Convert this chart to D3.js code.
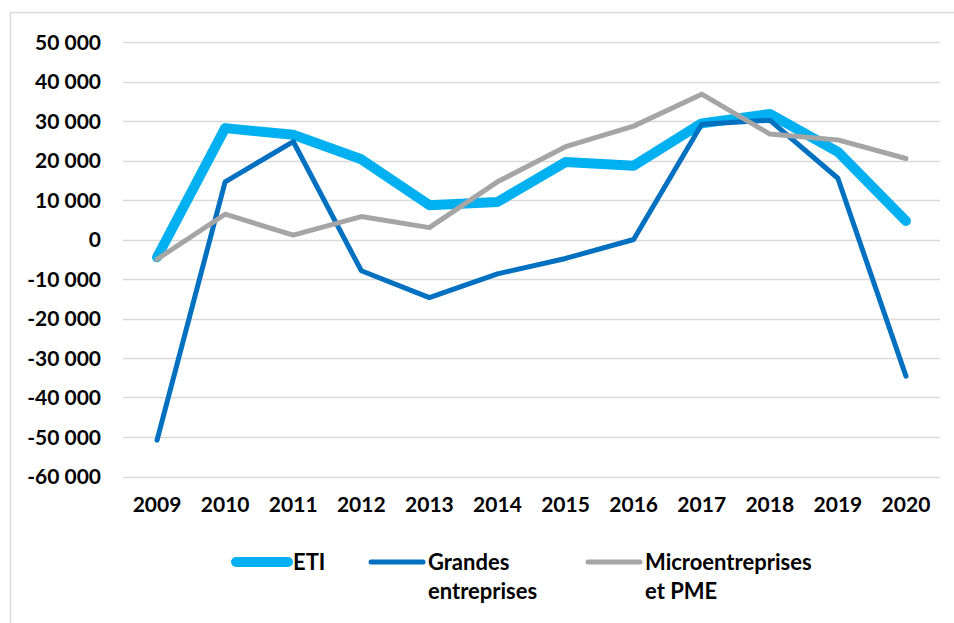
<!DOCTYPE html>
<html>
<head>
<meta charset="utf-8">
<script src="https://cdn.jsdelivr.net/npm/d3@7"></script>
<style>
  html, body { margin: 0; padding: 0; background: #fff; }
  svg text { font-family: Lato, "Liberation Sans", sans-serif; font-weight: bold; fill: #000; }
</style>
</head>
<body>
<svg id="chart" width="954" height="623"></svg>
<script>
'use strict';

// years on the x axis
var years = ['2009', '2010', '2011', '2012', '2013', '2014', '2015', '2016', '2017', '2018', '2019', '2020'];

// series values
var eti = [-4500, 28200, 26500, 20300, 8700, 9500, 19600, 18700, 29400, 31800, 22200, 4700];
var grandes = [-50800, 14600, 24800, -7900, -14700, -8700, -4800, 0, 29200, 30200, 15500, -34600];
var micro = [-5000, 6400, 1100, 5800, 3000, 14600, 23500, 28700, 36800, 26700, 25200, 20500];

var yTicks = [50000, 40000, 30000, 20000, 10000, 0, -10000, -20000, -30000, -40000, -50000, -60000];

var series = [
    { name: ['ETI'], values: eti, color: '#00b0f0', width: 10 },
    { name: ['Grandes', 'entreprises'], values: grandes, color: '#0070c0', width: 5 },
    { name: ['Microentreprises', 'et PME'], values: micro, color: '#a5a5a5', width: 5 }
];

var svg = d3.select('#chart');

//outer frame, only the top and left edges show
svg.append('rect')
    .attr('x', 10.5).attr('y', 12.5)
    .attr('width', 960).attr('height', 640)
    .attr('fill', 'none')
    .attr('stroke', '#d9d9d9')
    .attr('stroke-width', 1.5);

var x = d3.scaleBand().domain(years).range([123, 940]);
var y = d3.scaleLinear().domain([-60000, 50000]).range([476.5, 42]);

var fmt = function(v) {
    //french style thousands separator
    return d3.format(',')(v).replace(/,/g, ' ').replace('\u2212', '-');
};

//gridlines
svg.append('g')
    .selectAll('line')
    .data(yTicks)
    .enter()
    .append('line')
    .attr('x1', 123).attr('x2', 940)
    .attr('y1', function(d) { return Math.round(y(d)) + 0.5; })
    .attr('y2', function(d) { return Math.round(y(d)) + 0.5; })
    .attr('stroke', '#d9d9d9')
    .attr('stroke-width', 1.5);

//y axis labels
var yAxis = svg.append('g')
    .attr('transform', 'translate(101,0)')
    .call(d3.axisLeft(y).tickValues(yTicks).tickFormat(fmt).tickSize(0).tickPadding(0));
yAxis.select('.domain').remove();
yAxis.selectAll('text')
    .attr('font-size', 21)
    .attr('dy', '0.35em')
    .style('font-family', 'Lato, "Liberation Sans", sans-serif')
    .style('font-weight', 'bold');

//x axis labels
var xAxis = svg.append('g')
    .attr('transform', 'translate(0,497)')
    .call(d3.axisBottom(x).tickSize(0).tickPadding(0));
xAxis.select('.domain').remove();
xAxis.selectAll('text')
    .attr('font-size', 21)
    .style('font-family', 'Lato, "Liberation Sans", sans-serif')
    .style('font-weight', 'bold');

var line = d3.line()
    .x(function(d, i) { return x(years[i]) + x.bandwidth() / 2; })
    .y(function(d) { return y(d); });

svg.append('g')
    .selectAll('path')
    .data(series)
    .enter()
    .append('path')
    .attr('d', function(d) { return line(d.values); })
    .attr('fill', 'none')
    .attr('stroke', function(d) { return d.color; })
    .attr('stroke-width', function(d) { return d.width; })
    .attr('stroke-linejoin', 'round')
    .attr('stroke-linecap', 'round');

//legend
var legendX = [236, 371, 588];
var legend = svg.append('g')
    .selectAll('g')
    .data(series)
    .enter()
    .append('g')
    .attr('transform', function(d, i) { return 'translate(' + legendX[i] + ',562)'; });

legend.append('line')
    .attr('x1', 0).attr('x2', 52)
    .attr('y1', 0).attr('y2', 0)
    .attr('stroke', function(d) { return d.color; })
    .attr('stroke-width', function(d) { return d.width; })
    .attr('stroke-linecap', 'round');

legend.append('text')
    .attr('x', 57)
    .attr('font-size', 22)
    .selectAll('tspan')
    .data(function(d) { return d.name; })
    .enter()
    .append('tspan')
    .attr('x', 57)
    .attr('y', function(d, i) { return i * 29; })
    .attr('dy', '0.35em')
    .text(function(d) { return d; });
</script>
</body>
</html>
